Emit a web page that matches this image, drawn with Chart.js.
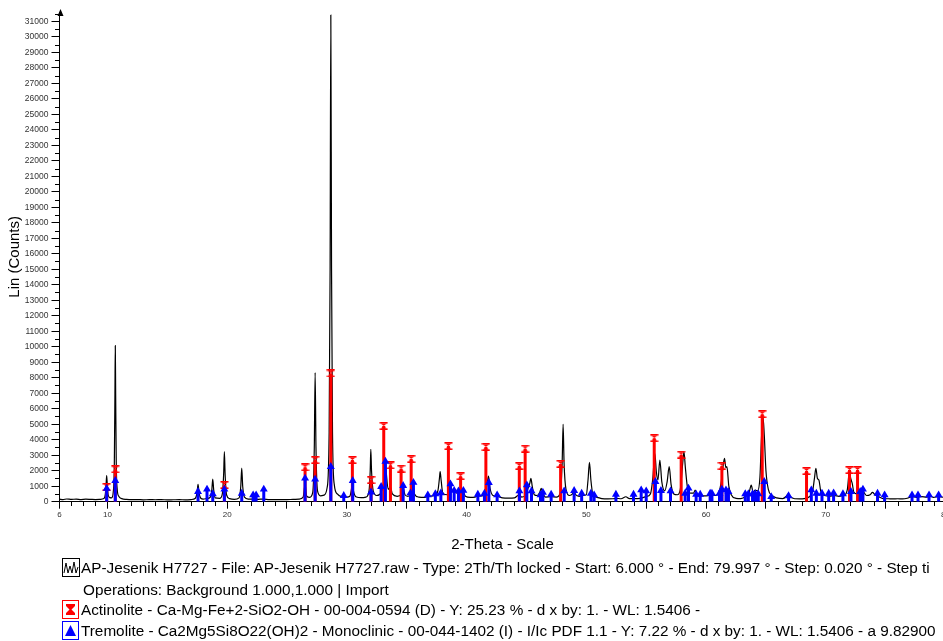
<!DOCTYPE html>
<html><head><meta charset="utf-8">
<script src="https://cdn.jsdelivr.net/npm/chart.js@4.4.1/dist/chart.umd.min.js"></script>
<style>
html,body{margin:0;padding:0;background:#fff;overflow:hidden;}
#wrap{position:relative;width:943px;height:641px;overflow:hidden;font-family:"Liberation Sans",Arial,sans-serif;}
#c{position:absolute;left:0;top:0;}
.lg{position:absolute;white-space:nowrap;font-size:15.3px;color:#000;line-height:16px;}
.ico{position:absolute;left:62px;}
</style></head><body>
<div id="wrap">
<canvas id="c" width="951" height="641"></canvas>
<svg class="ico" style="top:558px" width="19" height="20"><rect x="0.5" y="0.5" width="17" height="18" fill="#fff" stroke="#000"/><polyline points="2,15 4,5 6,15 8,8 10,15 12,4 14,15 16,9" fill="none" stroke="#000" stroke-width="1"/></svg>
<div class="lg" style="top:560px;left:81px">AP-Jesenik H7727 - File: AP-Jesenik H7727.raw - Type: 2Th/Th locked - Start: 6.000 ° - End: 79.997 ° - Step: 0.020 ° - Step ti</div>
<div class="lg" style="top:582px;left:83px">Operations: Background 1.000,1.000 | Import</div>
<svg class="ico" style="top:600px" width="19" height="20"><rect x="0.5" y="0.5" width="16" height="18" fill="#fff" stroke="#ff0000"/><polygon points="4,4 13,4 13,6 9.5,9.5 13,13 13,15 4,15 4,13 7.5,9.5 4,6" fill="#ff0000"/></svg>
<div class="lg" style="top:602px;left:81px">Actinolite - Ca-Mg-Fe+2-SiO2-OH - 00-004-0594 (D) - Y: 25.23 % - d x by: 1. - WL: 1.5406 -</div>
<svg class="ico" style="top:621px" width="19" height="20"><rect x="0.5" y="0.5" width="16" height="18" fill="#fff" stroke="#0000ff"/><polygon points="8.5,4 14,15 3,15" fill="#0000ff"/></svg>
<div class="lg" style="top:623px;left:81px">Tremolite - Ca2Mg5Si8O22(OH)2 - Monoclinic - 00-044-1402 (I) - I/Ic PDF 1.1 - Y: 7.22 % - d x by: 1. - WL: 1.5406 - a 9.82900</div>
</div>
<script>
// ---- data ----
const xRange = [6, 80];
const yRange = [0, 31600];

// measured pattern (2-theta, counts)
const pattern = [
[6.0,160],[6.3,140],[6.6,175],[7.0,150],[7.4,165],[7.8,140],[8.2,160],[8.6,150],[9.0,140],[9.4,150],[9.7,200],
[9.82,450],[9.89,1100],[9.94,1680],[9.99,1100],[10.06,450],[10.2,260],[10.35,250],[10.5,700],
[10.58,2500],[10.63,7000],[10.66,10065],[10.69,7000],[10.74,2500],[10.82,800],[10.95,350],[11.2,200],[11.6,150],
[12.0,130],[12.5,140],[13.0,120],[13.5,130],[14.0,125],[14.5,130],[15.0,120],[15.5,125],[16.0,130],[16.5,120],[17.0,140],[17.35,220],
[17.48,550],[17.57,1120],[17.66,550],[17.8,220],[18.0,170],[18.3,200],[18.6,300],[18.72,750],[18.80,1465],[18.88,750],[19.0,250],
[19.4,220],[19.6,500],[19.71,1800],[19.77,3225],[19.83,1800],[19.95,450],[20.2,200],[20.6,150],[21.0,250],[21.14,1000],[21.22,2175],
[21.30,1000],[21.45,300],[21.8,170],[22.2,160],[22.6,150],[23.0,170],[23.5,140],[24.0,130],[24.5,140],[25.0,130],[25.5,150],[26.0,170],
[26.35,300],[26.51,1100],[26.65,350],[26.9,280],[27.15,600],[27.28,3500],[27.35,8325],[27.42,3500],[27.55,700],[27.8,380],[28.1,420],
[28.35,900],[28.52,4500],[28.6,15000],[28.66,31400],[28.72,15000],[28.8,4500],[28.95,1100],[29.2,500],[29.5,350],[29.74,380],[30.0,300],
[30.25,350],[30.4,900],[30.46,1300],[30.55,700],[30.8,300],[31.2,260],[31.6,300],[31.85,700],[31.95,2000],[32.0,3380],[32.06,2000],
[32.2,700],[32.5,400],[32.86,600],[33.05,1200],[33.16,2200],[33.22,2580],[33.3,1800],[33.45,800],[33.64,950],[33.8,500],[34.2,350],
[34.55,500],[34.7,900],[34.85,450],[35.1,350],[35.31,500],[35.5,1100],[35.65,500],[36.0,300],[36.5,280],[36.9,350],[37.3,400],
[37.6,700],[37.73,1500],[37.79,1935],[37.87,1400],[38.0,600],[38.3,450],[38.55,800],[38.63,1290],[38.72,900],[38.9,650],[39.0,720],
[39.2,550],[39.35,700],[39.5,520],[39.7,650],[39.9,350],[40.3,280],[40.7,300],[40.94,380],[41.3,380],[41.5,500],[41.7,1100],
[41.83,1660],[41.95,900],[42.2,400],[42.55,350],[43.0,250],[43.5,230],[44.0,250],[44.4,450],[44.6,300],[44.9,400],[45.05,700],
[45.28,1200],[45.37,1510],[45.48,1000],[45.65,450],[45.9,400],[46.1,600],[46.23,860],[46.37,550],[46.6,300],[47.06,320],[47.5,300],
[47.8,500],[47.98,2500],[48.06,4990],[48.14,2500],[48.3,800],[48.6,400],[48.85,500],[48.98,690],[49.1,450],[49.4,350],[49.7,400],
[50.0,450],[50.14,1400],[50.26,2540],[50.38,1400],[50.55,450],[50.9,280],[51.3,200],[51.8,180],[52.2,190],[52.5,220],[52.9,190],
[53.3,320],[53.6,200],[54.0,200],[54.5,220],[55.0,330],[55.35,500],[55.55,1500],[55.72,3120],[55.85,1900],[55.98,1400],[56.14,2690],
[56.3,1300],[56.55,700],[56.75,1300],[56.92,2260],[57.08,1100],[57.3,500],[57.6,450],[57.85,800],[58.05,2500],[58.15,3225],[58.27,2200],
[58.45,900],[58.7,550],[58.95,550],[59.09,755],[59.25,450],[59.6,380],[60.0,380],[60.3,450],[60.43,560],[60.6,400],[60.95,450],
[61.25,1200],[61.42,2300],[61.54,2800],[61.65,2200],[61.74,2260],[61.9,1000],[62.1,450],[62.5,220],[62.9,200],[63.3,330],[63.6,600],
[63.77,1075],[63.93,600],[64.1,750],[64.3,700],[64.5,1600],[64.62,4000],[64.75,5485],[64.86,4300],[65.0,2000],[65.2,800],[65.5,400],
[65.9,250],[66.4,200],[66.7,350],[66.84,500],[67.0,350],[67.4,190],[67.8,180],[68.2,200],[68.6,300],[68.9,700],[69.05,1500],
[69.17,2150],[69.3,1500],[69.42,1400],[69.6,600],[69.9,400],[70.3,350],[70.7,400],[71.1,350],[71.5,400],[71.8,800],[71.92,1700],
[71.98,1935],[72.08,1500],[72.2,1200],[72.35,600],[72.6,500],[72.85,600],[73.0,880],[73.15,650],[73.4,400],[73.7,450],[73.9,600],
[74.1,450],[74.4,330],[74.8,200],[75.2,190],[75.6,180],[76.0,190],[76.4,180],[76.8,220],[77.2,330],[77.6,280],[78.0,330],[78.4,300],
[78.7,360],[79.0,280],[79.4,330],[80.0,260]
];

const actinoliteTheta = [9.94,10.66,19.77,26.51,27.35,28.66,30.46,32.02,33.08,33.64,34.53,35.37,38.48,39.50,41.61,44.40,44.89,47.85,55.67,57.92,61.32,64.69,68.39,71.98,72.65];
const actinoliteCounts = [950,2090,1080,2220,2690,8280,2690,1400,4885,2345,2130,2755,3590,1650,3530,2300,3420,2440,4100,3030,2310,5650,1980,2045,2045];

const tremoliteTheta = [9.94,10.66,17.57,18.32,18.80,19.77,21.22,22.17,22.42,23.06,26.51,27.35,28.66,29.74,30.49,32.02,32.86,33.22,34.70,35.31,35.56,36.76,37.39,37.85,38.65,38.96,39.32,39.73,40.94,41.49,41.86,42.55,44.41,45.03,45.42,46.17,46.37,47.06,48.15,48.98,49.61,50.38,50.65,52.47,53.94,54.58,55.00,55.77,56.23,57.03,58.25,58.53,59.17,59.51,60.34,60.49,61.12,61.32,61.66,61.87,63.27,63.53,63.88,64.11,64.36,64.86,65.44,66.89,68.79,69.21,69.68,70.24,70.65,71.43,72.10,72.87,73.10,74.32,74.91,77.20,77.70,78.62,79.42];
const tremoliteCounts = [850,1355,645,800,500,800,540,430,430,800,1510,1445,2260,390,1355,620,970,2600,1040,560,1240,430,500,560,1140,720,690,720,475,540,1225,430,690,1075,690,430,600,475,690,710,540,540,430,475,475,755,690,1290,710,690,540,865,475,475,540,540,540,800,755,645,500,500,500,500,500,1290,320,370,755,540,540,540,560,500,645,645,800,540,430,430,430,430,430];

// axis ticks
const xTickValues = [6,10,15,20,25,30,35,40,45,50,55,60,65,70,75,80];
const xLabelValues = [6,10,20,30,40,50,60,70,80];
const yTickValues = []; for (let v = 0; v <= 31000; v += 1000) yTickValues.push(v);
const xMinor = []; for (let v = 7; v <= 79; v++) if (v % 5 !== 0) xMinor.push(v);
const yMinor = []; for (let v = 500; v < yRange[1]; v += 1000) yMinor.push(v);

// ---- build datasets ----
function sticks(theta, counts) {
  const out = [];
  theta.forEach((t, i) => { out.push({x:t,y:0}); out.push({x:t,y:counts[i]}); out.push({x:t,y:null}); });
  return out;
}
function tops(theta, counts) { return theta.map((t, i) => ({x:t, y:counts[i]})); }

function makeHourglass() {
  const c = document.createElement('canvas'); c.width = 9; c.height = 8;
  const g = c.getContext('2d'); g.fillStyle = '#ff0000';
  g.fillRect(0.5,0,8,1.6); g.fillRect(0.5,6.4,8,1.6);
  g.beginPath(); g.moveTo(1.5,1.4); g.lineTo(7.5,1.4); g.lineTo(4.5,4); g.closePath(); g.fill();
  g.beginPath(); g.moveTo(1.5,6.6); g.lineTo(7.5,6.6); g.lineTo(4.5,4); g.closePath(); g.fill();
  return c;
}

const axisExtras = {
  id: 'axisExtras',
  afterDraw(chart) {
    const ctx = chart.ctx, xs = chart.scales.x, ys = chart.scales.y;
    ctx.save();
    ctx.strokeStyle = '#000'; ctx.lineWidth = 1;
    ctx.beginPath();
    const b = Math.round(ys.bottom);
    xMinor.forEach(v => { const px = Math.round(xs.getPixelForValue(v)) + 0.5; ctx.moveTo(px, b); ctx.lineTo(px, b + 4); });
    const l = Math.round(xs.left);
    yMinor.forEach(v => { const py = Math.round(ys.getPixelForValue(v)) + 0.5; ctx.moveTo(l - 5, py); ctx.lineTo(l, py); });
    ctx.stroke();
    ctx.fillStyle = '#000';
    ctx.beginPath();
    ctx.moveTo(l + 0.5, ys.top - 3); ctx.lineTo(l + 3.5, ys.top + 4); ctx.lineTo(l - 2.5, ys.top + 4); ctx.closePath(); ctx.fill();
    ctx.restore();
  }
};

Chart.defaults.font.family = '"Liberation Sans", Arial, sans-serif';

new Chart(document.getElementById('c'), {
  type: 'line',
  data: { datasets: [
    { label: 'Tremolite marks', type: 'scatter', data: tops(tremoliteTheta, tremoliteCounts), showLine: false,
      pointStyle: 'triangle', pointRadius: 4.6, backgroundColor: '#0000ff', borderColor: '#0000ff', borderWidth: 0, order: 0 },
    { label: 'Tremolite', data: sticks(tremoliteTheta, tremoliteCounts), borderColor: '#0000ff', borderWidth: 3,
      pointRadius: 0, spanGaps: false, order: 1 },
    { label: 'Actinolite marks', type: 'scatter', data: tops(actinoliteTheta, actinoliteCounts), showLine: false,
      pointStyle: makeHourglass(), pointRadius: 4, backgroundColor: '#ff0000', borderColor: '#ff0000', order: 2 },
    { label: 'Actinolite', data: sticks(actinoliteTheta, actinoliteCounts), borderColor: '#ff0000', borderWidth: 3,
      pointRadius: 0, spanGaps: false, order: 3 },
    { label: 'AP-Jesenik H7727', data: pattern.map(p => ({x:p[0], y:p[1]})), borderColor: '#000', borderWidth: 1.2,
      pointRadius: 0, cubicInterpolationMode: 'monotone', order: 4 }
  ]},
  options: {
    responsive: false, animation: false,
    layout: { padding: { left: 0, top: 12, right: 0, bottom: 87.3 } },
    plugins: { legend: { display: false }, tooltip: { enabled: false } },
    scales: {
      x: { type: 'linear', min: xRange[0], max: xRange[1], offset: false,
        afterBuildTicks(s) { s.ticks = xTickValues.map(v => ({ value: v })); },
        afterFit(s) { s.height = 52; s.paddingLeft = 0; },
        ticks: { autoSkip: false, maxRotation: 0, padding: 1, color: '#333', font: { size: 8 },
          callback: v => xLabelValues.includes(v) ? String(v) : '' },
        grid: { drawOnChartArea: false, drawTicks: true, tickLength: 7, color: '#000', tickColor: '#000' },
        border: { display: true, color: '#000', width: 1 },
        title: { display: true, text: '2-Theta - Scale', color: '#000', font: { size: 15 }, padding: { top: 0, bottom: 0 } } },
      y: { type: 'linear', min: yRange[0], max: yRange[1],
        afterBuildTicks(s) { s.ticks = yTickValues.map(v => ({ value: v })); },
        afterFit(s) { s.width = 59.5; s.paddingTop = 0; s.paddingBottom = 0; },
        ticks: { autoSkip: false, padding: 3, color: '#333', font: { size: 8.5 }, callback: v => String(v) },
        grid: { drawOnChartArea: false, drawTicks: true, tickLength: 8, color: '#000', tickColor: '#000' },
        border: { display: true, color: '#000', width: 1 },
        title: { display: true, text: 'Lin (Counts)', color: '#000', font: { size: 15 }, padding: { top: 6, bottom: 0 } } }
    }
  },
  plugins: [axisExtras]
});
</script>
</body></html>
